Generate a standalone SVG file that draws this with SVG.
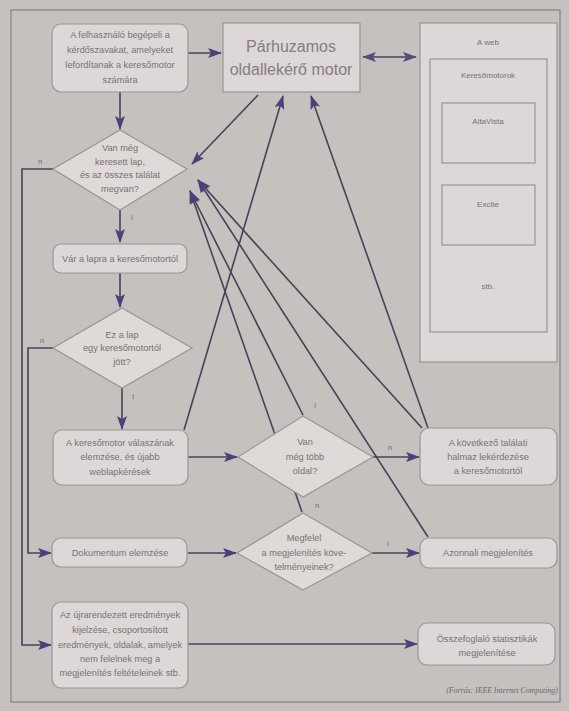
<svg xmlns="http://www.w3.org/2000/svg" width="569" height="711" viewBox="0 0 569 711">
<style>
.bg{fill:#c6c1bf}
.box{fill:#dcd8d7;stroke:#9b9496;stroke-width:1.2}
.dia{fill:#dedad8;stroke:#9b9496;stroke-width:1.2}
.t{font-family:"Liberation Sans",Arial,sans-serif;font-size:9.2px;fill:#7d6e77;text-anchor:middle}
.big{font-family:"Liberation Sans",Arial,sans-serif;font-size:16px;fill:#8a7a83;text-anchor:middle}
.lbl{font-family:"Liberation Sans",Arial,sans-serif;font-size:7.5px;fill:#6e6470;text-anchor:middle}
.src{font-family:"Liberation Serif","Times New Roman",serif;font-size:7.8px;font-style:italic;fill:#6e6470;text-anchor:middle}
.ln{fill:none;stroke:#4a4158;stroke-width:1.6}
.arr{marker-end:url(#ah)}
</style>
<defs>
<marker id="ah" markerUnits="userSpaceOnUse" markerWidth="14" markerHeight="10" refX="13" refY="5" orient="auto">
<path d="M0,0 L14,5 L0,10 L3,5 z" fill="#4f3d7c"/>
</marker>
<marker id="ahs" markerUnits="userSpaceOnUse" markerWidth="14" markerHeight="10" refX="13" refY="5" orient="auto-start-reverse">
<path d="M0,0 L14,5 L0,10 L3,5 z" fill="#5a4a80"/>
</marker>
</defs>
<rect class="bg" x="0" y="0" width="569" height="711"/>
<rect x="11" y="10" width="549" height="692" fill="none" stroke="#958d90" stroke-width="1.5"/>

<g id="connectors">
<path class="ln arr" d="M188,53 L221,53"/>
<path class="ln" d="M363,57 L416,57" marker-start="url(#ahs)" marker-end="url(#ahs)"/>
<path class="ln arr" d="M120,92 L120,129"/>
<path class="ln arr" d="M258,95 L192,164"/>
<path class="ln arr" d="M53,169 H22 V645 H51"/>
<path class="ln arr" d="M120,210 V242"/>
<path class="ln arr" d="M120,273 V307"/>
<path class="ln arr" d="M53,348 H28 V553 H51"/>
<path class="ln arr" d="M122,388 V429"/>
<path class="ln arr" d="M188,457 H237"/>
<path class="ln arr" d="M184,430 L283,96"/>
<path class="ln arr" d="M373,457 H419"/>
<path class="ln arr" d="M303,415 L190,191"/>
<path class="ln arr" d="M302,512 L190,191"/>
<path class="ln arr" d="M428,537 L198,180"/>
<path class="ln arr" d="M422,428 L198,180"/>
<path class="ln arr" d="M428,428 L311,96"/>
<path class="ln arr" d="M188,553 H236"/>
<path class="ln arr" d="M372,553 H419"/>
<path class="ln arr" d="M188,644 H417"/>
<text class="lbl" x="40" y="164">n</text>
<text class="lbl" x="132" y="220">i</text>
<text class="lbl" x="42" y="343">n</text>
<text class="lbl" x="133" y="399">i</text>
<text class="lbl" x="315" y="408">i</text>
<text class="lbl" x="390" y="450">n</text>
<text class="lbl" x="317" y="508">n</text>
<text class="lbl" x="388" y="546">i</text>
</g>

<g id="n-user">
<rect class="box" x="52" y="24" width="136" height="68" rx="9"/>
<text class="t" x="120" y="38">A felhasználó begépeli a</text>
<text class="t" x="120" y="53">kérdőszavakat, amelyeket</text>
<text class="t" x="120" y="68">lefordítanak a keresőmotor</text>
<text class="t" x="120" y="83">számára</text>
</g>

<g id="n-motor">
<rect class="box" x="223" y="23" width="137" height="69"/>
<text class="big" x="291" y="52">Párhuzamos</text>
<text class="big" x="291" y="75">oldallekérő motor</text>
</g>

<g id="n-web">
<rect class="box" x="420" y="23" width="137" height="339"/>
<text class="t" x="488" y="45" style="font-size:8px">A web</text>
<rect class="box" x="430" y="59" width="117" height="273"/>
<text class="t" x="488" y="78" style="font-size:8px">Keresőmotorok</text>
<rect class="box" x="442" y="103" width="93" height="60"/>
<text class="t" x="488" y="124" style="font-size:8px">AltaVista</text>
<rect class="box" x="442" y="185" width="93" height="60"/>
<text class="t" x="488" y="207" style="font-size:8px">Excite</text>
<text class="t" x="488" y="289" style="font-size:8px">stb.</text>
</g>

<g id="n-d1">
<polygon class="dia" points="120,130 187,169 120,210 53,169"/>
<text class="t" x="120" y="151">Van még</text>
<text class="t" x="120" y="165">keresett lap,</text>
<text class="t" x="120" y="178">és az összes találat</text>
<text class="t" x="120" y="192">megvan?</text>
</g>

<g id="n-var">
<rect class="box" x="53" y="244" width="134" height="29" rx="8"/>
<text class="t" x="120" y="262">Vár a lapra a keresőmotortól</text>
</g>

<g id="n-d2">
<polygon class="dia" points="122,308 192,348 122,388 53,348"/>
<text class="t" x="122" y="338">Ez a lap</text>
<text class="t" x="122" y="351">egy keresőmotortól</text>
<text class="t" x="122" y="365">jött?</text>
</g>

<g id="n-valasz">
<rect class="box" x="53" y="430" width="135" height="55" rx="9"/>
<text class="t" x="120" y="446">A keresőmotor válaszának</text>
<text class="t" x="120" y="460">elemzése, és újabb</text>
<text class="t" x="120" y="475">weblapkérések</text>
</g>

<g id="n-d3">
<polygon class="dia" points="303,416 373,457 303,497 238,457"/>
<text class="t" x="305" y="445">Van</text>
<text class="t" x="305" y="460">még több</text>
<text class="t" x="305" y="474">oldal?</text>
</g>

<g id="n-kovetkezo">
<rect class="box" x="420" y="428" width="137" height="57" rx="9"/>
<text class="t" x="488" y="446">A következő találati</text>
<text class="t" x="488" y="460">halmaz lekérdezése</text>
<text class="t" x="488" y="474">a keresőmotortól</text>
</g>

<g id="n-dok">
<rect class="box" x="52" y="538" width="135" height="29" rx="9"/>
<text class="t" x="120" y="556">Dokumentum elemzése</text>
</g>

<g id="n-d4">
<polygon class="dia" points="303,513 372,553 303,590 237,553"/>
<text class="t" x="304" y="541">Megfelel</text>
<text class="t" x="304" y="556">a megjelenítés köve-</text>
<text class="t" x="304" y="570">telményeinek?</text>
</g>

<g id="n-azonnali">
<rect class="box" x="420" y="538" width="137" height="30" rx="9"/>
<text class="t" x="488" y="556">Azonnali megjelenítés</text>
</g>

<g id="n-ujra">
<rect class="box" x="52" y="602" width="136" height="86" rx="9"/>
<text class="t" x="120" y="618">Az újrarendezett eredmények</text>
<text class="t" x="120" y="633">kijelzése, csoportosított</text>
<text class="t" x="120" y="648">eredmények, oldalak, amelyek</text>
<text class="t" x="120" y="662">nem felelnek meg a</text>
<text class="t" x="120" y="676">megjelenítés feltételeinek stb.</text>
</g>

<g id="n-osszef">
<rect class="box" x="418" y="623" width="137" height="42" rx="9"/>
<text class="t" x="487" y="642">Összefoglaló statisztikák</text>
<text class="t" x="487" y="656">megjelenítése</text>
</g>

<text class="src" x="502" y="693">(Forrás: IEEE Internet Computing)</text>
</svg>
